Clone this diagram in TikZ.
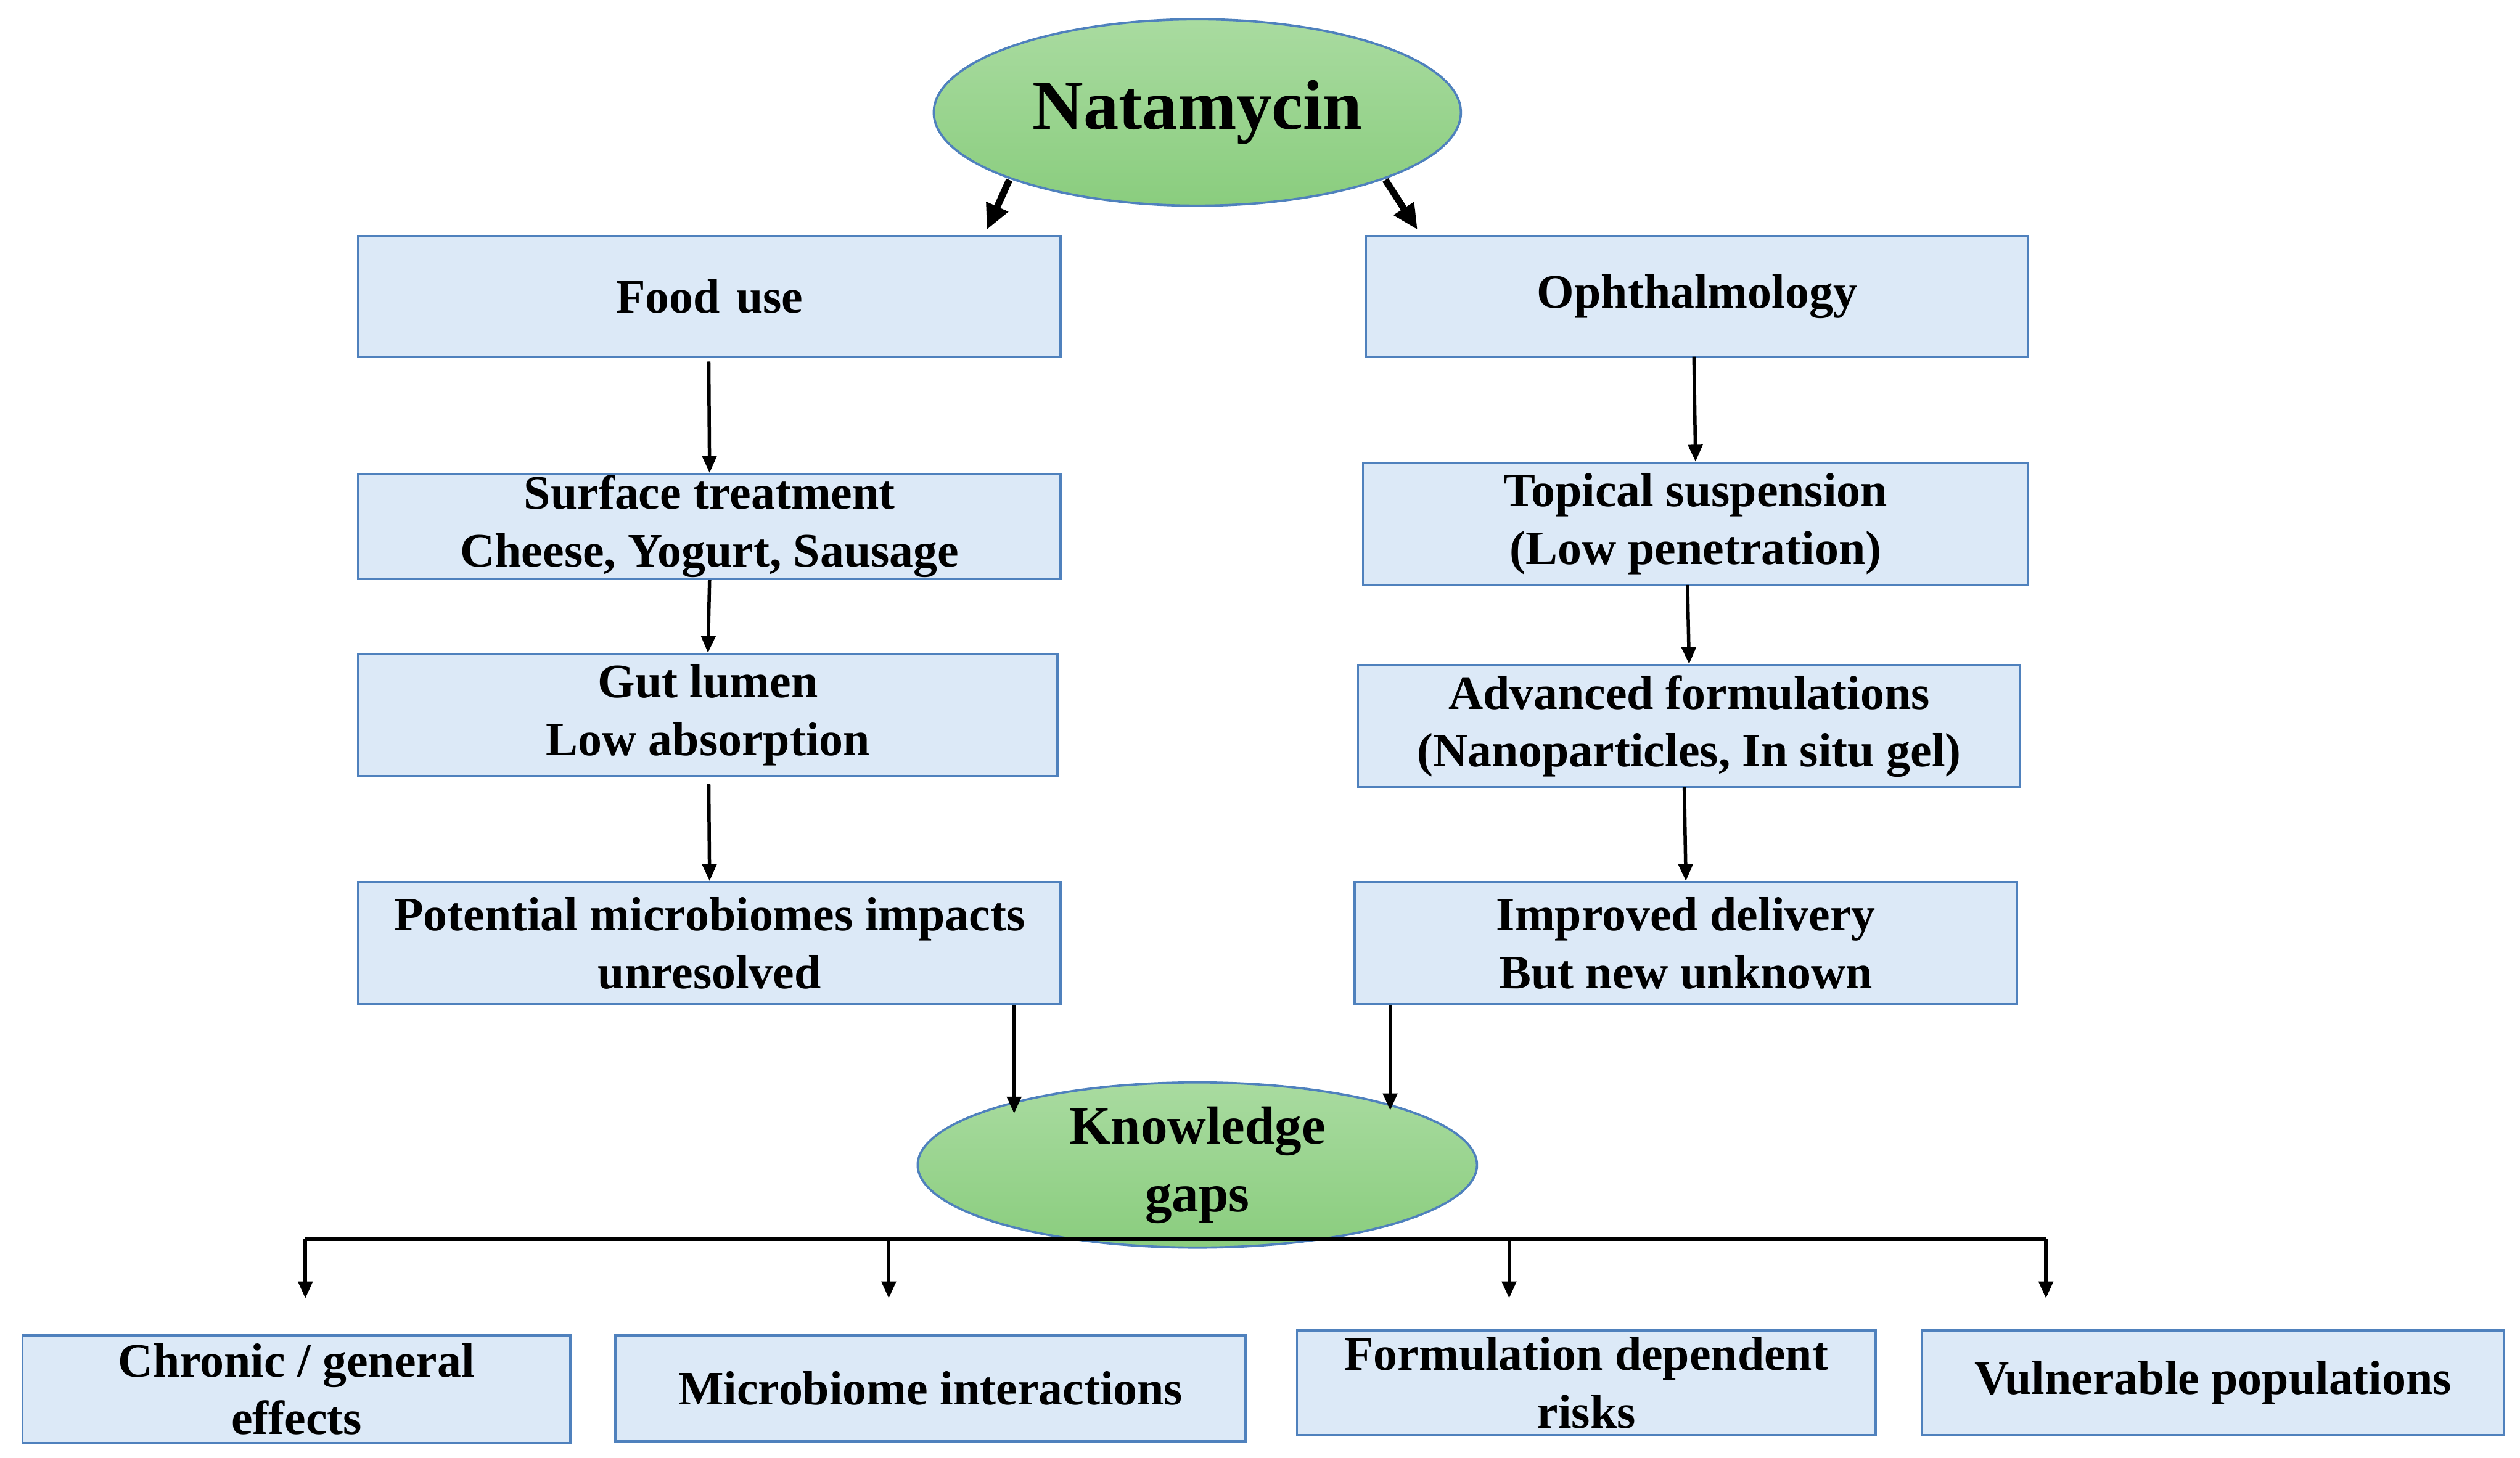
\documentclass[tikz,border=0pt]{standalone}
\usepackage{fontspec}
\setmainfont{Liberation Serif}
\usetikzlibrary{shapes.geometric,arrows.meta}
\definecolor{boxfill}{HTML}{DCE9F7}
\definecolor{boxline}{HTML}{4F81BD}
\definecolor{gtop}{HTML}{A9DBA0}
\definecolor{gbot}{HTML}{8ACD7E}
\begin{document}
\begin{tikzpicture}[x=0.02cm,y=-0.02cm,
 box/.style={draw=boxline,fill=boxfill,line width=0.8pt,inner sep=0pt,align=center,
   font=\bfseries\fontsize{17}{20.5}\selectfont},
 ell/.style={ellipse,draw=boxline,line width=0.8pt,top color=gtop,bottom color=gbot,inner sep=0pt,align=center},
 arr/.style={-{Triangle[length=6pt,width=5pt]},line width=1.2pt},
 big/.style={-{Triangle[length=9pt,width=8pt]},line width=2.4pt}]
\useasboundingbox (0,0) rectangle (1568,907);
\node[ell,minimum width=328*0.02cm,minimum height=116*0.02cm,font=\bfseries\fontsize{25}{28}\selectfont] (nat) at (745,70) {Natamycin};
\node[box,minimum width=437*0.02cm,minimum height=75*0.02cm] (food) at (441.5,184.5) {Food\,\,use};
\node[box,minimum width=412*0.02cm,minimum height=75*0.02cm] (oph) at (1056,184.5) {Ophthalmology};
\node[box,minimum width=437*0.02cm,minimum height=65*0.02cm] (surf) at (441.5,327.5) {Surface treatment\\Cheese, Yogurt, Sausage};
\node[box,minimum width=414*0.02cm,minimum height=76*0.02cm] (top) at (1055,326) {Topical suspension\\(Low penetration)};
\node[box,minimum width=435*0.02cm,minimum height=76*0.02cm] (gut) at (440.5,445) {Gut lumen\\Low absorption};
\node[box,minimum width=412*0.02cm,minimum height=76*0.02cm] (adv) at (1051,452) {Advanced formulations\\(Nanoparticles, In situ gel)};
\node[box,minimum width=437*0.02cm,minimum height=76*0.02cm] (pot) at (441.5,587) {Potential microbiomes impacts\\unresolved};
\node[box,minimum width=412*0.02cm,minimum height=76*0.02cm] (imp) at (1049,587) {Improved delivery\\But new unknown};
\node[ell,minimum width=348*0.02cm,minimum height=84*0.02cm,font=\bfseries\fontsize{19}{24}\selectfont] (kg) at (745,725) {Knowledge\\gaps};
\node[box,minimum width=341*0.02cm,minimum height=67*0.02cm] (chr) at (184.5,864.5) {Chronic / general\\effects};
\node[box,minimum width=392*0.02cm,minimum height=66*0.02cm] (mic) at (579,864) {Microbiome interactions};
\node[box,minimum width=360*0.02cm,minimum height=65*0.02cm] (form) at (987,860.5) {Formulation dependent\\risks};
\node[box,minimum width=362*0.02cm,minimum height=65*0.02cm] (vul) at (1377,860.5) {Vulnerable populations};
\coordinate (n1) at (628,112); \coordinate (n2) at (862,112);
\coordinate (f1) at (614,143); \coordinate (o1) at (882,143);
\draw[big] (n1) -- (f1);
\draw[big] (n2) -- (o1);
\draw[arr] (441,225) -- (surf.north);
\draw[arr] (surf.south) -- (gut.north);
\draw[arr] (441,488) -- (pot.north);
\draw[arr] (1054,222) -- (top.north);
\draw[arr] (1050,364) -- (adv.north);
\draw[arr] (1048,490) -- (imp.north);
\coordinate (k1) at (631,693); \coordinate (k2) at (865,691);
\draw[arr] (pot.south -| k1) -- (k1);
\draw[arr] (imp.south -| k2) -- (k2);
\draw[line width=1.4pt] (190,771) -- (1273,771);
\foreach \x/\n in {190/chr,553/mic,939/form,1273/vul}
  \draw[arr] (\x,771) -- (\x,808);
\end{tikzpicture}
\end{document}
